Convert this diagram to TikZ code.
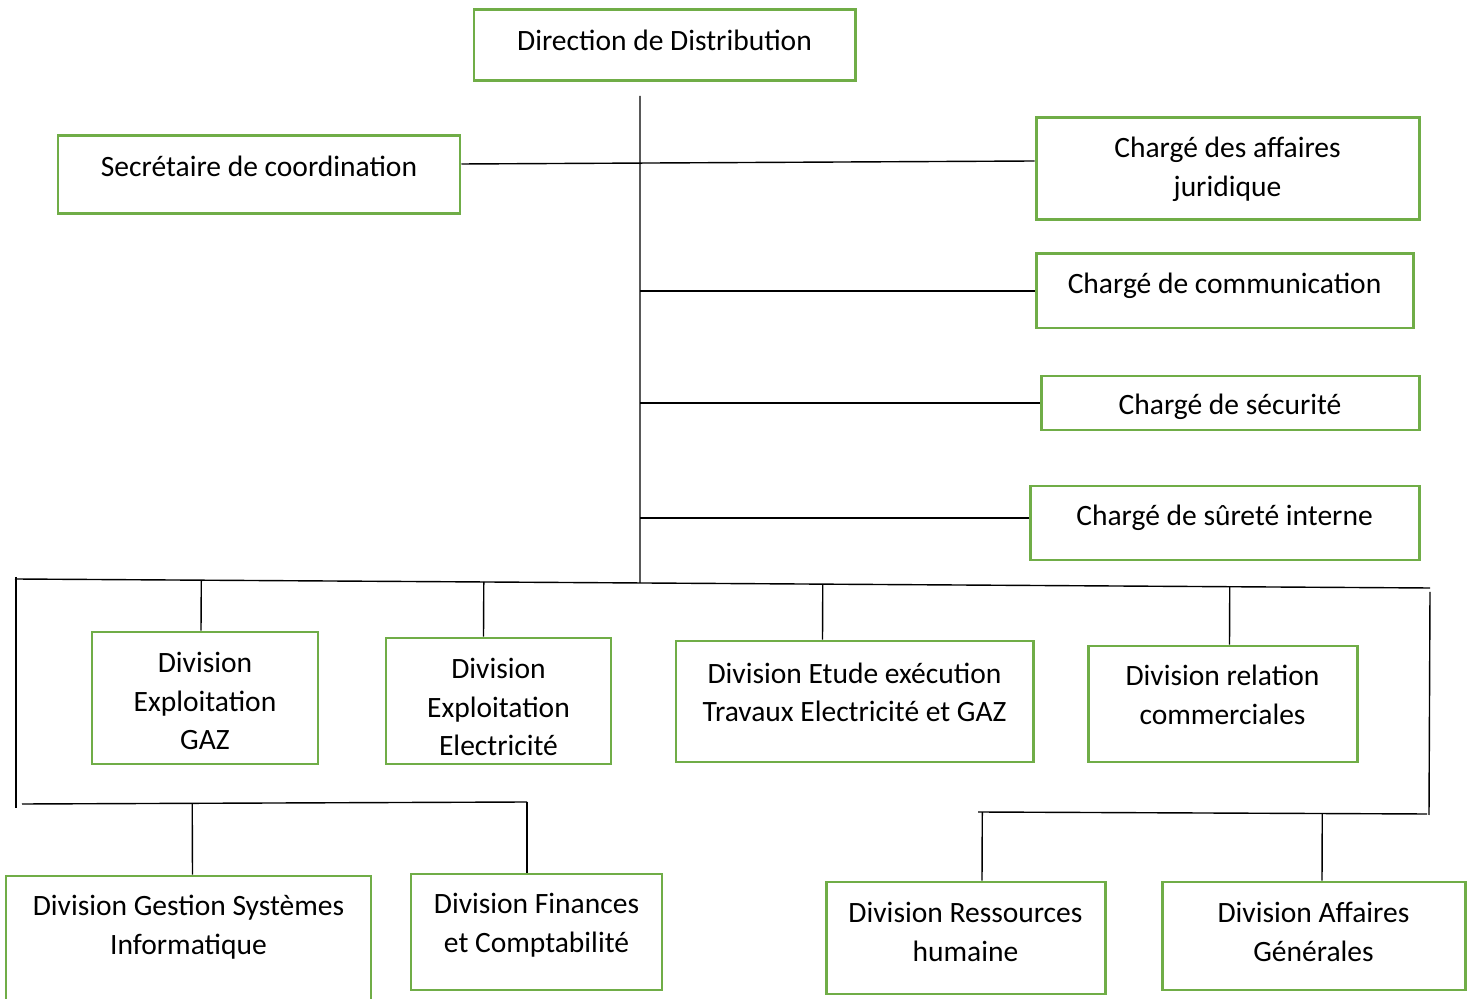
\documentclass[tikz,border=0pt]{standalone}
\usepackage{fontspec}
\setmainfont{Carlito}
\usetikzlibrary{positioning,calc}
\definecolor{boxgreen}{HTML}{70AD47}
\tikzset{
  orgbox/.style={rectangle,draw=boxgreen,line width=1.7pt,inner sep=0pt},
  bsize/.style 2 args={minimum width={#1*0.02cm},minimum height={#2*0.02cm}},
  boxtext/.style={align=center,font=\fontsize{16.8}{22}\selectfont},
  txt/.style 2 args={label={[boxtext,yshift={#1*0.02cm}]center:#2}},
  link/.style={draw=black,line width=0.8pt}
}

\begin{document}
\begin{tikzpicture}[x=0.02cm,y=-0.02cm]
\useasboundingbox (0,0) rectangle (1475,999);
% top and staff
\node[orgbox,bsize={381}{71},txt={5}{Direction de Distribution}] (dd) at (664.5,45.5) {};
\node[orgbox,bsize={402}{78},txt={9}{Secrétaire de coordination}] (sc) at (259,175) {};
\node[orgbox,bsize={383}{102},txt={0}{Chargé des affaires\\juridique}] (caj) at (1227.5,169) {};
\node[orgbox,bsize={377}{74},txt={5}{Chargé de communication}] (cc) at (1224.5,291) {};
\node[orgbox,bsize={378}{54},txt={-4}{Chargé de sécurité}] (cs) at (1230,403) {};
\node[orgbox,bsize={389}{74},txt={5}{Chargé de sûreté interne}] (csi) at (1224.5,523) {};
% divisions
\node[orgbox,bsize={226}{132},txt={-3}{Division\\Exploitation\\GAZ}] (dgaz) at (205,698) {};
\node[orgbox,bsize={225}{126},txt={-6}{Division\\Exploitation\\Electricité}] (delec) at (498.5,701) {};
\node[orgbox,bsize={357}{121},txt={9}{Division Etude exécution\\Travaux Electricité et GAZ}] (detude) at (854.5,701.5) {};
\node[orgbox,bsize={269}{116},txt={9}{Division relation\\commerciales}] (drc) at (1222.5,704) {};
\node[orgbox,bsize={365}{136},txt={17}{Division Gestion Systèmes\\Informatique}] (dgsi) at (188.5,944) {};
\node[orgbox,bsize={251}{116},txt={7}{Division Finances\\et Comptabilité}] (dfc) at (536.5,932) {};
\node[orgbox,bsize={279}{112},txt={6}{Division Ressources\\humaine}] (drh) at (965.5,938) {};
\node[orgbox,bsize={303}{108},txt={4}{Division Affaires\\Générales}] (dag) at (1313.5,936) {};

% junctions
\coordinate (top) at (640,96);
\coordinate (topb) at (640,600);
\coordinate (busL) at (15,579);
\coordinate (busR) at (1430,588);
\coordinate (lvtop) at (16,577);
\coordinate (lv) at (16,808);
\coordinate (b2L) at (22,804);
\coordinate (b2R) at (527,802);
\coordinate (rvtop) at (1430,592);
\coordinate (rv) at (1429,815);
\coordinate (b3L) at (978,812);
\coordinate (b3R) at (1427,814);

% trunk and staff lines
\draw[link] (top) -- (intersection of top--topb and busL--busR);
\draw[link] ($(sc.east)+(0,-11)$) -- ($(caj.west)+(0,-8)$);
\draw[link] (top |- cc.west) -- (cc.west);
\draw[link] (top |- cs.west) -- (cs.west);
\draw[link] ($(top |- csi.west)+(0,-5)$) -- ($(csi.west)+(0,-5)$);

% division bus
\draw[link] (busL) -- (busR);
\foreach \n/\dx in {dgaz/-4,delec/-15,detude/-32,drc/7}
  \draw[link] ($(\n.north)+(\dx,0)$) -- ($(busL)!($(\n.north)+(\dx,0)$)!(busR)$);

% left branch
\draw[link] (lvtop) -- (lv);
\draw[link] (b2L) -- (b2R);
\draw[link] ($(dgsi.north)+(4,0)$) -- ($(b2L)!($(dgsi.north)+(4,0)$)!(b2R)$);
\draw[link] (b2R) -- (b2R |- dfc.north);

% right branch
\draw[link] (rvtop) -- (rv);
\draw[link] (b3L) -- (b3R);
\draw[link] ($(drh.north)+(16.5,0)$) -- ($(b3L)!($(drh.north)+(16.5,0)$)!(b3R)$);
\draw[link] ($(dag.north)+(8.5,0)$) -- ($(b3L)!($(dag.north)+(8.5,0)$)!(b3R)$);
\end{tikzpicture}
\end{document}
